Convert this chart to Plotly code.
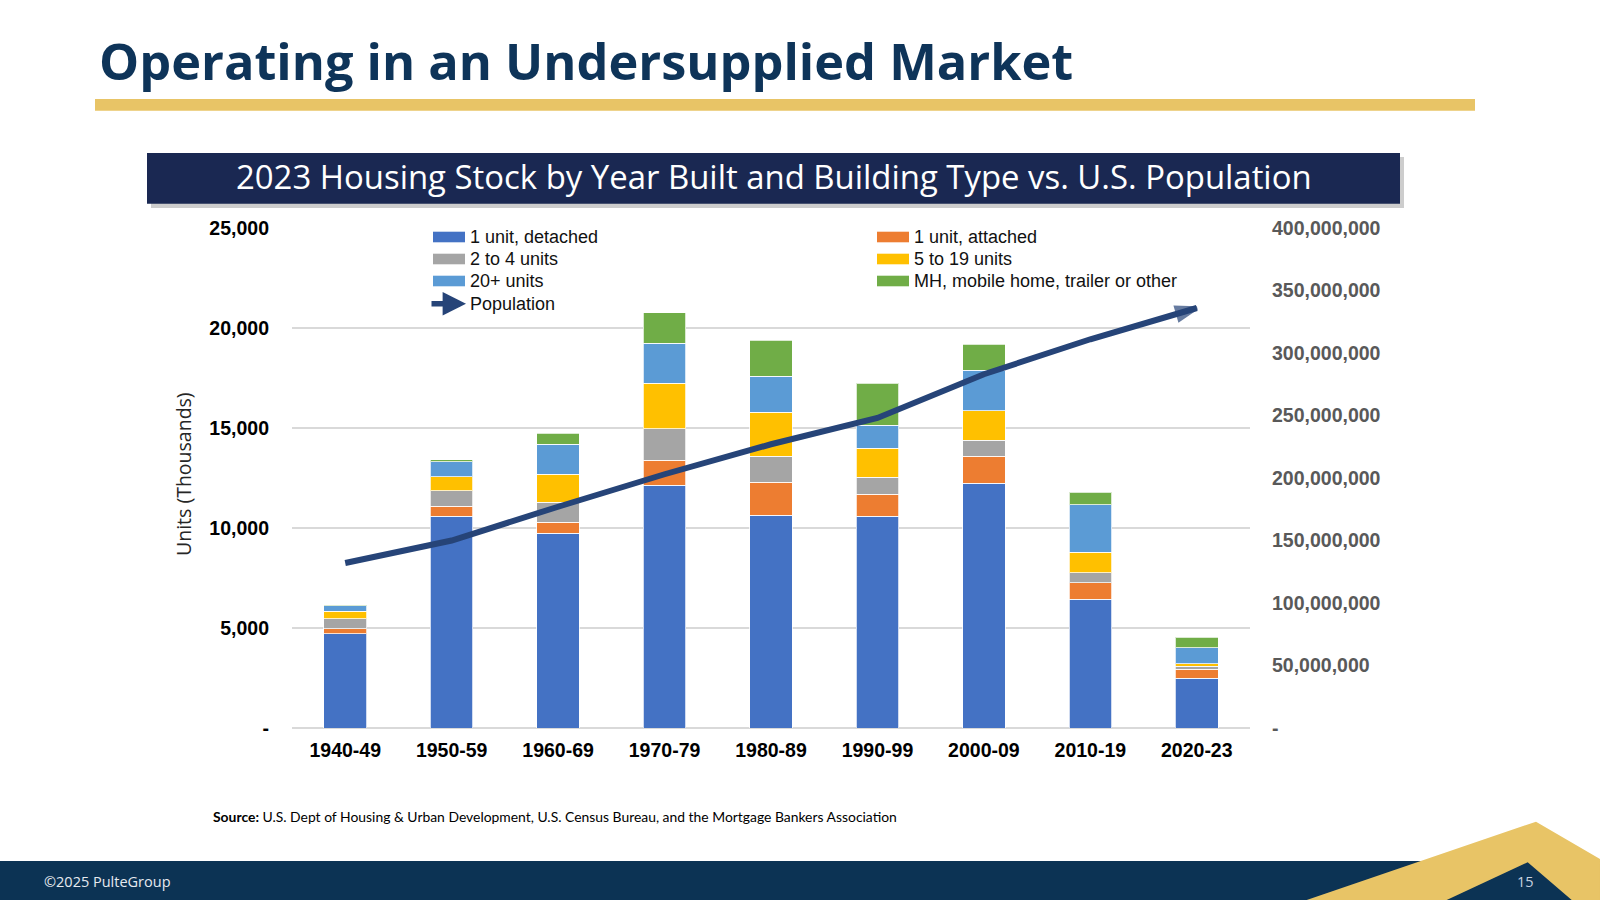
import plotly.graph_objects as go

# ---------------- data ----------------
categories = ["1940-49", "1950-59", "1960-69", "1970-79", "1980-89",
              "1990-99", "2000-09", "2010-19", "2020-23"]
one_unit_detached = [4720, 10600, 9750, 12135, 10650, 10585, 12250, 6450, 2500]
one_unit_attached = [250, 500, 550, 1250, 1650, 1100, 1350, 820, 450]
two_to_four_units = [500, 770, 1000, 1585, 1285, 865, 785, 500, 135]
five_to_nineteen_units = [365, 700, 1385, 2280, 2200, 1450, 1485, 1030, 135]
twenty_plus_units = [285, 750, 1515, 2000, 1815, 1150, 2015, 2370, 800]
mobile_home_other = [50, 100, 535, 1520, 1785, 2100, 1300, 630, 530]
population = [132e6, 150e6, 177e6, 203e6, 227e6, 248e6, 283e6, 311e6, 336e6]

left_tickvals = [0, 5000, 10000, 15000, 20000, 25000]
left_ticktext = ["-", "5,000", "10,000", "15,000", "20,000", "25,000"]
right_tickvals = [0, 50e6, 100e6, 150e6, 200e6, 250e6, 300e6, 350e6, 400e6]
right_ticktext = ["-", "50,000,000", "100,000,000", "150,000,000", "200,000,000",
                  "250,000,000", "300,000,000", "350,000,000", "400,000,000"]

series_names = ["1 unit, detached", "1 unit, attached", "2 to 4 units",
                "5 to 19 units", "20+ units", "MH, mobile home, trailer or other"]
series_values = [one_unit_detached, one_unit_attached, two_to_four_units,
                 five_to_nineteen_units, twenty_plus_units, mobile_home_other]
series_colors = ["#4472C4", "#ED7D31", "#A5A5A5", "#FFC000", "#5B9BD5", "#70AD47"]
line_name = "Population"
line_color = "#264478"

# ---------------- geometry helpers ----------------
FW, FH = 1600, 900
L, R, T, B = 292, 350, 228, 172
PW = FW - L - R
PH = FH - T - B


def fx(x):
    return (x - L) / PW


def fy(y):
    return (FH - B - y) / PH


ARIAL = "Liberation Sans, Arial, sans-serif"
SEGOE = "Open Sans, Lato, sans-serif"
CALIBRI = "Lato, Open Sans, sans-serif"

fig = go.Figure()
for name, vals, col in zip(series_names, series_values, series_colors):
    fig.add_trace(go.Bar(
        x=categories, y=vals, name=name,
        marker=dict(color=col, line=dict(color="rgba(255,255,255,0.75)", width=1)),
        showlegend=False,
    ))

n = len(categories)
fig.add_trace(go.Scatter(
    x=categories, y=population, name=line_name, yaxis="y2",
    mode="lines+markers",
    line=dict(color=line_color, width=6),
    marker=dict(symbol=["circle"] * (n - 1) + ["arrow"],
                size=[0] * (n - 1) + [21],
                angleref="previous", color=line_color,
                line=dict(width=[0] * (n - 1) + [3.5], color=line_color)),
    showlegend=False,
))

shapes = []
annotations = []

# title underline (gold)
shapes.append(dict(type="rect", xref="paper", yref="paper",
                   x0=fx(95), x1=fx(1475), y0=fy(99), y1=fy(110.7),
                   fillcolor="#E8C466", line=dict(width=0), layer="below"))
# chart title box shadow + box
shapes.append(dict(type="rect", xref="paper", yref="paper",
                   x0=fx(151), x1=fx(1404), y0=fy(157), y1=fy(208),
                   fillcolor="rgba(90,90,90,0.3)", line=dict(width=0), layer="below"))
shapes.append(dict(type="rect", xref="paper", yref="paper",
                   x0=fx(147), x1=fx(1400), y0=fy(153), y1=fy(203.7),
                   fillcolor="#1A2852", line=dict(width=0), layer="below"))
# footer bar
shapes.append(dict(type="rect", xref="paper", yref="paper",
                   x0=fx(0), x1=fx(1600), y0=fy(861), y1=fy(900),
                   fillcolor="#0C3354", line=dict(width=0), layer="below"))
# gold chevron
chev = [(1306.7, 900), (1536, 821.7), (1600, 859), (1600, 900),
        (1571.7, 900), (1527.7, 862.3), (1446.7, 900)]
path = "M " + " L ".join(f"{fx(a):.5f},{fy(b):.5f}" for a, b in chev) + " Z"
shapes.append(dict(type="path", xref="paper", yref="paper", path=path,
                   fillcolor="#E8C466", line=dict(width=0), layer="below"))

# custom legend
legend_rows = [237, 259, 281, 303.7]
col_x = [433, 877]
for i, (name, col) in enumerate(zip(series_names, series_colors)):
    r, c = divmod(i, 2)
    yc = legend_rows[r]
    x0 = col_x[c]
    shapes.append(dict(type="rect", xref="paper", yref="paper",
                       x0=fx(x0), x1=fx(x0 + 32), y0=fy(yc - 5.3), y1=fy(yc + 5.3),
                       fillcolor=col, line=dict(width=0)))
    annotations.append(dict(text=name, xref="paper", yref="paper",
                            x=fx(x0 + 35), y=fy(yc), xanchor="left", yanchor="middle",
                            showarrow=False, font=dict(family=ARIAL, size=18, color="#111111")))
# population legend entry
annotations.append(dict(text="", xref="paper", yref="paper",
                        x=fx(466), y=fy(legend_rows[3]), ax=-36, ay=0,
                        axref="pixel", ayref="pixel",
                        showarrow=True, arrowhead=2, arrowsize=0.85, arrowwidth=5.5,
                        arrowcolor=line_color))
annotations.append(dict(text=line_name, xref="paper", yref="paper",
                        x=fx(468), y=fy(legend_rows[3]), xanchor="left", yanchor="middle",
                        showarrow=False, font=dict(family=ARIAL, size=18, color="#111111")))

# texts
annotations.append(dict(text="Operating in an Undersupplied Market", xref="paper", yref="paper",
                        x=fx(97), y=fy(61), xanchor="left", yanchor="middle", showarrow=False,
                        font=dict(family=SEGOE, size=50.5, color="#0E3459", weight="bold")))
annotations.append(dict(text="2023 Housing Stock by Year Built and Building Type vs. U.S. Population",
                        xref="paper", yref="paper", x=fx(773.5), y=fy(177), xanchor="center",
                        yanchor="middle", showarrow=False,
                        font=dict(family=SEGOE, size=32.9, color="#FFFFFF")))
annotations.append(dict(text="Units (Thousands)", xref="paper", yref="paper",
                        x=fx(183), y=fy(474), xanchor="center", yanchor="middle",
                        textangle=-90, showarrow=False,
                        font=dict(family=SEGOE, size=19.5, color="#262626")))
annotations.append(dict(text="<b>Source:</b> U.S. Dept of Housing &amp; Urban Development, U.S. Census Bureau, and the Mortgage Bankers Association",
                        xref="paper", yref="paper", x=fx(211), y=fy(816), xanchor="left",
                        yanchor="middle", showarrow=False,
                        font=dict(family=CALIBRI, size=13.9, color="#000000")))
annotations.append(dict(text="©2025 PulteGroup", xref="paper", yref="paper",
                        x=fx(42), y=fy(881), xanchor="left", yanchor="middle", showarrow=False,
                        font=dict(family=SEGOE, size=14.5, color="#E6EAF0")))
annotations.append(dict(text="15", xref="paper", yref="paper",
                        x=fx(1525.5), y=fy(881.5), xanchor="center", yanchor="middle",
                        showarrow=False, font=dict(family=SEGOE, size=14.5, color="#C9D2E0")))

fig.update_layout(
    width=FW, height=FH,
    margin=dict(l=L, r=R, t=T, b=B, pad=0),
    paper_bgcolor="white", plot_bgcolor="white",
    barmode="stack", bargap=0.6,
    showlegend=False,
    xaxis=dict(type="category", range=[-0.5, n - 0.5], showgrid=False, showline=False,
               zeroline=False, ticks="", ticklabelstandoff=8,
               tickfont=dict(family=ARIAL, size=19.5, color="#000000", weight="bold")),
    yaxis=dict(range=[0, 25000], tickvals=left_tickvals, ticktext=left_ticktext,
               showgrid=True, gridcolor="#D9D9D9", gridwidth=1.5,
               zeroline=True, zerolinecolor="#D9D9D9", zerolinewidth=1.5,
               showline=False, ticks="", ticklabelstandoff=22,
               tickfont=dict(family=ARIAL, size=19.5, color="#000000", weight="bold")),
    yaxis2=dict(range=[0, 400e6], overlaying="y", side="right",
                tickvals=right_tickvals, ticktext=right_ticktext,
                showgrid=False, zeroline=False, showline=False, ticks="",
                ticklabelstandoff=21,
                tickfont=dict(family=ARIAL, size=19.5, color="#595959", weight="bold")),
    shapes=shapes,
    annotations=annotations,
)

fig.write_html("out.html", config={"displayModeBar": False},
               post_script="document.body.style.margin='0';document.body.style.overflow='hidden';")
